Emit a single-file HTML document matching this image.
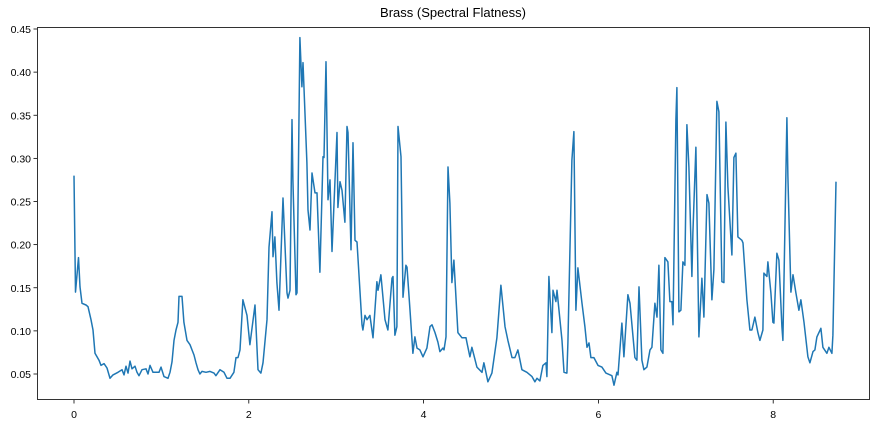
<!DOCTYPE html>
<html><head><meta charset="utf-8"><style>
html,body{margin:0;padding:0;background:#fff;}
svg{display:block;font-family:"Liberation Sans","DejaVu Sans",sans-serif;}
</style></head><body>
<svg id="chart" width="880" height="427" viewBox="0 0 880 427" xmlns="http://www.w3.org/2000/svg">
<rect x="0" y="0" width="880" height="427" fill="#fff"/>
<text x="453" y="17" text-anchor="middle" font-size="13" fill="#000">Brass (Spectral Flatness)</text>
<g id="axes"></g>
<path id="line" fill="none" stroke="#1f77b4" stroke-width="1.5" stroke-linejoin="round"/>
<rect x="37.5" y="27.5" width="832" height="372" fill="none" stroke="#000" stroke-width="0.8"/>
</svg>
<script>
const times=[0,.017,.051,.069,.092,.137,.160,.194,.217,.240,.263,.286,.309,.343,.378,.412,.446,.503,.549,.572,.595,.618,.641,.664,.698,.721,.744,.778,.824,.847,.869,.904,.938,.972,.995,1.030,1.075,1.098,1.121,1.144,1.167,1.190,1.201,1.236,1.258,1.293,1.327,1.350,1.373,1.396,1.419,1.441,1.464,1.510,1.556,1.602,1.624,1.670,1.716,1.750,1.785,1.830,1.853,1.876,1.899,1.933,1.979,2.013,2.071,2.105,2.139,2.162,2.208,2.231,2.265,2.277,2.299,2.322,2.345,2.391,2.437,2.448,2.471,2.494,2.505,2.540,2.551,2.585,2.608,2.620,2.665,2.677,2.700,2.723,2.757,2.780,2.814,2.849,2.860,2.883,2.906,2.929,2.952,3.009,3.020,3.043,3.066,3.100,3.123,3.135,3.169,3.192,3.215,3.238,3.295,3.306,3.329,3.352,3.386,3.421,3.466,3.478,3.512,3.558,3.592,3.638,3.650,3.672,3.695,3.707,3.741,3.764,3.798,3.810,3.844,3.878,3.901,3.924,3.958,3.993,4.038,4.073,4.096,4.130,4.164,4.187,4.221,4.233,4.256,4.279,4.301,4.324,4.347,4.393,4.439,4.485,4.496,4.530,4.553,4.610,4.668,4.690,4.736,4.782,4.839,4.885,4.931,4.965,5.011,5.045,5.079,5.125,5.182,5.240,5.274,5.297,5.331,5.365,5.400,5.411,5.434,5.468,5.480,5.514,5.526,5.583,5.606,5.640,5.651,5.697,5.720,5.743,5.766,5.812,5.846,5.869,5.892,5.914,5.949,5.995,6.040,6.086,6.155,6.178,6.212,6.224,6.269,6.292,6.338,6.361,6.418,6.441,6.464,6.498,6.521,6.555,6.590,6.612,6.647,6.670,6.692,6.715,6.738,6.761,6.795,6.818,6.841,6.853,6.887,6.898,6.921,6.944,6.967,6.990,7.013,7.036,7.070,7.081,7.116,7.150,7.184,7.207,7.242,7.264,7.299,7.322,7.356,7.379,7.413,7.436,7.459,7.482,7.528,7.550,7.573,7.596,7.642,7.654,7.699,7.733,7.756,7.791,7.825,7.848,7.882,7.894,7.928,7.939,7.974,7.997,8.008,8.042,8.065,8.100,8.111,8.157,8.168,8.203,8.226,8.260,8.294,8.317,8.352,8.397,8.420,8.455,8.477,8.500,8.546,8.569,8.614,8.637,8.672,8.683,8.718];
const flatness=[.280,.145,.185,.151,.132,.130,.128,.113,.101,.074,.070,.066,.060,.062,.057,.045,.049,.052,.055,.049,.059,.051,.065,.056,.059,.052,.048,.055,.056,.050,.060,.052,.052,.052,.058,.047,.045,.052,.064,.089,.101,.110,.140,.140,.110,.089,.084,.078,.072,.063,.055,.050,.053,.052,.053,.051,.048,.055,.052,.045,.045,.052,.069,.069,.078,.136,.118,.084,.130,.055,.051,.063,.113,.197,.238,.186,.209,.156,.124,.254,.144,.138,.147,.345,.275,.142,.144,.440,.383,.411,.295,.240,.217,.283,.260,.260,.168,.302,.301,.412,.252,.275,.192,.330,.243,.273,.263,.226,.337,.330,.194,.318,.205,.203,.107,.101,.118,.113,.118,.092,.157,.147,.165,.113,.101,.161,.163,.095,.105,.337,.302,.139,.176,.174,.124,.074,.093,.080,.078,.070,.080,.105,.107,.098,.087,.076,.080,.078,.093,.290,.248,.156,.182,.098,.092,.092,.086,.070,.081,.058,.052,.063,.041,.051,.092,.153,.105,.089,.069,.069,.078,.055,.052,.047,.041,.045,.042,.060,.063,.047,.163,.098,.147,.134,.147,.089,.052,.051,.086,.298,.331,.124,.173,.132,.105,.081,.086,.069,.069,.060,.058,.051,.048,.037,.052,.049,.109,.070,.142,.132,.069,.066,.151,.066,.055,.058,.078,.081,.132,.116,.176,.078,.074,.185,.180,.134,.134,.107,.345,.382,.122,.124,.180,.176,.339,.290,.163,.214,.313,.093,.161,.116,.258,.248,.136,.171,.366,.354,.157,.156,.342,.267,.188,.301,.306,.209,.205,.202,.136,.101,.101,.116,.098,.089,.101,.167,.163,.180,.144,.110,.109,.190,.182,.105,.089,.347,.279,.145,.165,.144,.124,.136,.110,.070,.063,.076,.078,.093,.103,.081,.074,.081,.074,.095,.273];
const xTicks=[0,2,4,6,8];
const yTicks=[0.05,0.10,0.15,0.20,0.25,0.30,0.35,0.40,0.45];
function xs(t){return 74+t*87.4;}
function ys(v){return 374-(v-0.05)*862.5;}
const NS="http://www.w3.org/2000/svg";
const axes=document.getElementById('axes');
xTicks.forEach(t=>{
  const l=document.createElementNS(NS,'line');
  l.setAttribute('x1',xs(t));l.setAttribute('x2',xs(t));l.setAttribute('y1',400);l.setAttribute('y2',403.5);
  l.setAttribute('stroke','#000');l.setAttribute('stroke-width','0.8');
  
  
  axes.appendChild(l);
  const tx=document.createElementNS(NS,'text');
  tx.setAttribute('x',xs(t));tx.setAttribute('y',418);tx.setAttribute('text-anchor','middle');tx.setAttribute('font-size','10.5');
  tx.textContent=String(t);
  
  
  axes.appendChild(tx);
});
yTicks.forEach(v=>{
  const l=document.createElementNS(NS,'line');
  l.setAttribute('x1',33.5);l.setAttribute('x2',37);l.setAttribute('y1',ys(v));l.setAttribute('y2',ys(v));
  l.setAttribute('stroke','#000');l.setAttribute('stroke-width','0.8');
  
  
  axes.appendChild(l);
  const tx=document.createElementNS(NS,'text');
  tx.setAttribute('x',31);tx.setAttribute('y',ys(v)+4);tx.setAttribute('text-anchor','end');tx.setAttribute('font-size','10.5');
  tx.textContent=v.toFixed(2);
  
  
  axes.appendChild(tx);
});
let d='';
times.forEach((t,i)=>{d+=(i?'L':'M')+xs(t).toFixed(1)+','+ys(flatness[i]).toFixed(1);});
document.getElementById('line').setAttribute('d',d);
</script>
</body></html>
